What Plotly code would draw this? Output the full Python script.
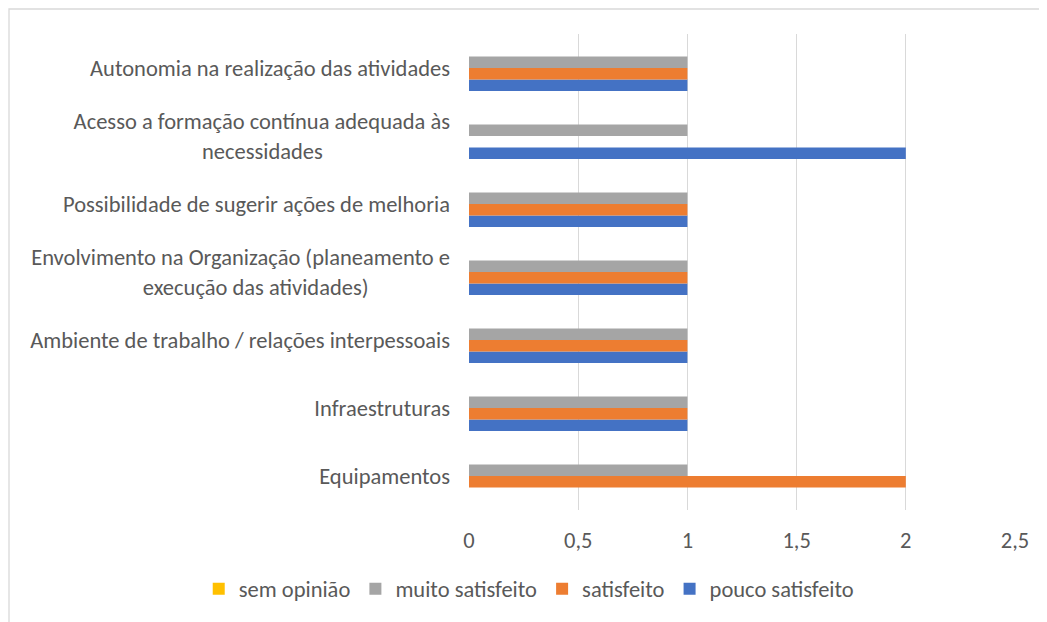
import plotly.graph_objects as go

NB = "\u00a0"

categories = [
    "Equipamentos",
    "Infraestruturas",
    "Ambiente de trabalho / relações interpessoais",
    "Envolvimento na Organização (planeamento e<br>execução das atividades)" + NB * 16,
    "Possibilidade de sugerir ações de melhoria",
    "Acesso a formação contínua adequada às<br>necessidades" + NB * 25,
    "Autonomia na realização das atividades",
]
pouco_satisfeito = [0, 1, 1, 1, 1, 2, 1]
satisfeito = [2, 1, 1, 1, 1, 0, 1]
muito_satisfeito = [1, 1, 1, 1, 1, 1, 1]
sem_opiniao = [0, 0, 0, 0, 0, 0, 0]

x_ticks = [0, 0.5, 1, 1.5, 2, 2.5]
x_tick_labels = ["0", "0,5", "1", "1,5", "2", "2,5"]

series = [
    ("pouco satisfeito", pouco_satisfeito, "#4472C4"),
    ("satisfeito", satisfeito, "#ED7D31"),
    ("muito satisfeito", muito_satisfeito, "#A5A5A5"),
    ("sem opinião", sem_opiniao, "#FFC000"),
]

fig = go.Figure()
for name, vals, color in series:
    fig.add_trace(go.Bar(
        y=categories, x=vals, name=name, orientation="h",
        marker=dict(color=color, line=dict(width=0)),
    ))

font_family = "Carlito, Calibri, Lato, 'Open Sans', sans-serif"
fs = 22.5
fig.update_layout(
    width=1039, height=614,
    barmode="group", bargap=0.32, bargroupgap=0,
    paper_bgcolor="white", plot_bgcolor="white",
    margin=dict(l=461, r=32, t=26, b=112),
    font=dict(family=font_family, size=fs, color="#595959"),
    xaxis=dict(
        range=[0, 2.5], tickvals=x_ticks, ticktext=x_tick_labels,
        showgrid=True, gridcolor="#D9D9D9", gridwidth=1.3,
        zeroline=False, showline=False, ticks="",
        tickfont=dict(size=fs, color="#595959"),
        ticklabelstandoff=14,
    ),
    yaxis=dict(
        categoryorder="array", categoryarray=categories,
        showgrid=False, zeroline=False, showline=False, ticks="",
        tickfont=dict(size=fs, color="#595959"),
        ticklabelstandoff=18,
    ),
    legend=dict(
        orientation="h", traceorder="reversed",
        x=-0.495, xanchor="left", y=-0.166, yanchor="middle",
        font=dict(size=fs, color="#595959"),
        itemwidth=30,
    ),
    showlegend=True,
    shapes=[dict(
        type="rect", xref="paper", yref="paper",
        x0=-0.8425, x1=1.08, y0=1.0525, y1=-0.26,
        line=dict(color="#D9D9D9", width=1.3), fillcolor="rgba(0,0,0,0)",
        layer="below",
    )],
)

fig.write_html("out.html")
